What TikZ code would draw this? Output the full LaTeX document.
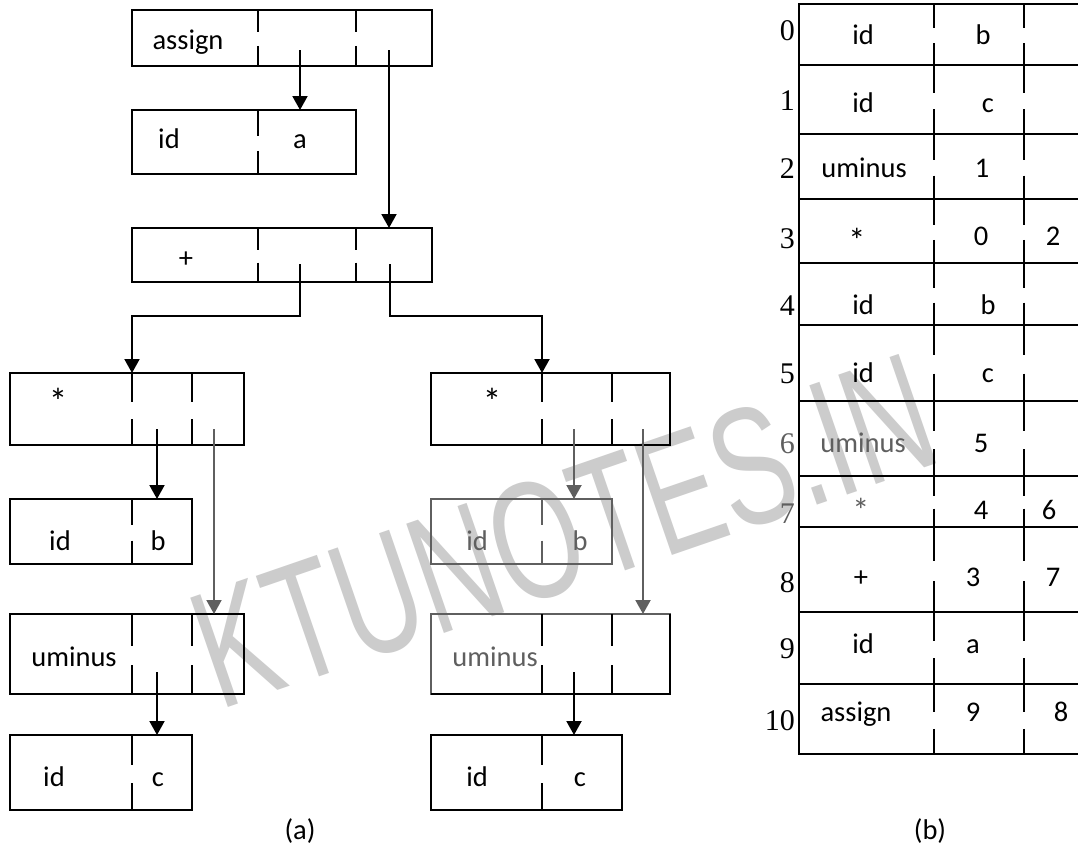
\documentclass[tikz,border=0pt]{standalone}
\usepackage{fontspec}
\setmainfont{Carlito}
\newfontfamily\numfont{Liberation Serif}
\newfontfamily\wmfont{Liberation Sans}
\usetikzlibrary{arrows.meta,calc}
\definecolor{wm}{RGB}{204,204,204}
\definecolor{dimgr}{RGB}{95,95,95}
\newcounter{tn}
\newcommand\mkbox[6]{% color,name,x1,y1,x2,y2
  \pgfmathsetmacro\bw{#5-#3}\pgfmathsetmacro\bh{#6-#4}%
  \node[recbox,draw=#1,minimum width=\bw pt,minimum height=\bh pt] (#2) at ({(#3+#5)/2},{(#4+#6)/2}) {};}
\newcommand\dv[4][black]{% x, ytop, ybot
  \pgfmathsetmacro\ya{#3+0.40*(#4-#3)}\pgfmathsetmacro\yb{#3+0.64*(#4-#3)}%
  \draw[ln,draw=#1] (#2,#3)--(#2,\ya) (#2,\yb)--(#2,#4);}
\newcommand\tx[4][black]{\stepcounter{tn}\node[lbl,text=#1] (txt\arabic{tn}) at (#2,#3) {#4};}
\newcommand\rn[4][black]{\node[numl,text=#1] (#2) at (795,#3) {#4};}
\newcommand\bigast[1]{\scalebox{#1}{*}}
\tikzset{
  ln/.style={line width=2pt},
  recbox/.style={draw,line width=2pt,inner sep=0pt,outer sep=0pt,rectangle},
  arr/.style={line width=2pt,-{Triangle[length=14pt,width=15pt]}},
  lbl/.style={anchor=base,inner sep=0pt,font=\fontsize{28.5}{34}\selectfont},
  numl/.style={anchor=base east,inner sep=0pt,font=\numfont\fontsize{30}{30}\selectfont},
}
\begin{document}
\begin{tikzpicture}[x=1pt,y=-1pt]
\path[use as bounding box] (0,0) rectangle (1078,846);
\clip (0,0) rectangle (1078,846);
\fill[white] (0,0) rectangle (1078,846);
% watermark
\node[anchor=base west,rotate=19,inner sep=0pt,text=wm,font=\wmfont\fontsize{168}{168}\selectfont] (wmark) at (219,711) {\scalebox{0.68}[1]{KTUNOTES.IN}};

% ---------- (a) tree ----------
\mkbox{black}{assignB}{132}{10}{432}{66}
\dv{258}{10}{66}\dv{356}{10}{66}
\tx{188}{49}{assign}
\mkbox{black}{idA}{132}{110}{356}{174}
\dv{258}{110}{174}
\tx{169}{148}{id}\tx{300}{148}{a}
\mkbox{black}{plusB}{132}{228}{432}{282}
\dv{258}{228}{282}\dv{356}{228}{282}
\tx{186}{267}{+}

\mkbox{black}{starL}{10}{373}{244}{445}
\dv{132}{373}{445}\dv{192}{373}{445}
\tx{58}{414}{\bigast{1.3}}
\mkbox{black}{idbL}{10}{499}{192}{564}
\dv{132}{499}{564}
\tx{60}{550}{id}\tx{158}{550}{b}
\mkbox{black}{umL}{10}{614}{244}{694}
\dv{132}{614}{694}\dv{192}{614}{694}
\tx{74}{666}{uminus}
\mkbox{black}{idcL}{10}{735}{192}{810}
\dv{132}{735}{810}
\tx{54}{786}{id}\tx{158}{786}{c}

\mkbox{black}{starR}{431}{373}{670}{445}
\dv{542}{373}{445}\dv{612}{373}{445}
\tx{492}{414}{\bigast{1.3}}
\mkbox{dimgr}{idbR}{431}{499}{612}{564}
\dv[dimgr]{542}{499}{564}
\tx[dimgr]{477}{550}{id}\tx[dimgr]{580}{550}{b}
\mkbox{dimgr}{umR}{431}{614}{670}{694}
\dv{542}{614}{694}\dv{612}{614}{694}
\draw[ln] (umR.south west) -- (umR.south east) -- (umR.north east);
\tx[dimgr]{495}{666}{uminus}
\mkbox{black}{idcR}{431}{735}{622}{810}
\dv{542}{735}{810}
\tx{477}{786}{id}\tx{580}{786}{c}

% pointers
\coordinate (aP1) at (300,50);
\coordinate (aP2) at (389,50);
\coordinate (pP1) at (300,264);
\coordinate (pP2) at (390,264);
\coordinate (jL) at (132,316);
\coordinate (jR) at (542,316);
\coordinate (sLP1) at (157,429);
\coordinate (sLP2) at (214,429);
\coordinate (uLP1) at (157,672);
\coordinate (sRP1) at (574,429);
\coordinate (sRP2) at (643,429);
\coordinate (uRP1) at (574,672);

\draw[arr] (aP1) -- (aP1 |- idA.north);
\draw[arr] (aP2) -- (aP2 |- plusB.north);
\draw[arr] (pP1) |- (jL) -- (jL |- starL.north);
\draw[arr] (pP2) |- (jR) -- (jR |- starR.north);
\draw[arr] (sLP1) -- (sLP1 |- idbL.north);
\draw[arr,draw=dimgr,fill=dimgr] (sLP2) -- (sLP2 |- umL.north);
\draw[arr] (uLP1) -- (uLP1 |- idcL.north);
\draw[arr,draw=dimgr,fill=dimgr] (sRP1) -- (sRP1 |- idbR.north);
\draw[arr,draw=dimgr,fill=dimgr] (sRP2) -- (sRP2 |- umR.north);
\draw[arr] (uRP1) -- (uRP1 |- idcR.north);

% ---------- (b) table ----------
\mkbox{black}{r0}{799}{4}{1100}{65}
\mkbox{black}{r1}{799}{65}{1100}{134}
\mkbox{black}{r2}{799}{134}{1100}{199}
\mkbox{black}{r3}{799}{199}{1100}{263}
\mkbox{black}{r4}{799}{263}{1100}{325}
\mkbox{black}{r5}{799}{325}{1100}{401}
\mkbox{black}{r6}{799}{401}{1100}{476}
\mkbox{black}{r7}{799}{476}{1100}{527}
\mkbox{black}{r8}{799}{527}{1100}{612}
\mkbox{black}{r9}{799}{612}{1100}{684}
\mkbox{black}{r10}{799}{684}{1100}{754}
\foreach \t/\b in {4/65,65/134,134/199,199/263,263/325,325/401,401/476,476/527,527/612,612/684,684/754}{
  \dv{934}{\t}{\b}\dv{1024}{\t}{\b}
}
\rn{n0}{40}{0}\rn{n1}{110}{1}\rn{n2}{178}{2}\rn{n3}{248}{3}
\rn{n4}{315}{4}\rn{n5}{383}{5}\rn[dimgr]{n6}{453}{6}\rn[dimgr]{n7}{523}{7}
\rn{n8}{592}{8}\rn{n9}{658}{9}\rn{n10}{730}{10}

\tx{863}{44}{id}\tx{983}{44}{b}
\tx{863}{112}{id}\tx{988}{112}{c}
\tx{864}{177}{uminus}\tx{982}{177}{1}
\tx{857}{252}{\bigast{1.2}}\tx{981}{245}{0}\tx{1053}{245}{2}
\tx{863}{314}{id}\tx{988}{314}{b}
\tx{863}{382}{id}\tx{988}{382}{c}
\tx[dimgr]{863}{452}{uminus}\tx{981}{452}{5}
\tx[dimgr]{861}{522}{\bigast{1.2}}\tx{981}{519}{4}\tx{1049}{519}{6}
\tx{861}{586}{+}\tx{973}{586}{3}\tx{1053}{586}{7}
\tx{863}{653}{id}\tx{973}{653}{a}
\tx{856}{721}{assign}\tx{973}{721}{9}\tx{1061}{721}{8}

% captions
\tx{300}{839}{(a)}
\tx{930}{839}{(b)}
\end{tikzpicture}
\end{document}
